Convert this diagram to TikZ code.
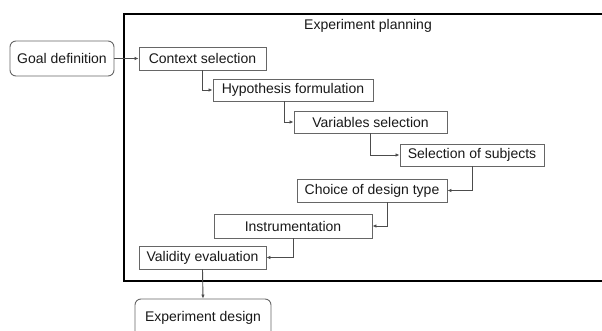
\documentclass[tikz,border=0pt]{standalone}
\usepackage{fontspec}
\setmainfont{Liberation Sans}
\usetikzlibrary{arrows.meta,positioning}
\begin{document}
\begin{tikzpicture}[x=1pt,y=-1pt,
  every node/.style={font=\fontsize{14}{16}\selectfont, text=black!90, inner sep=0pt},
  stepbox/.style={draw=black!60, line width=0.9pt, fill=white},
  endbox/.style={draw=black!60, line width=0.9pt, rounded corners=6pt, fill=white},
  conn/.style={draw=black!70, line width=0.9pt, -{Latex[length=4pt,width=3.5pt]}},
  frame/.style={draw=black, line width=1.3pt}
]
\clip (0,0) rectangle (602,331);
\fill[white] (0,0) rectangle (602,331);
\node[frame, minimum width=486pt, minimum height=267pt] (plan) at (367,147.5) {};
\node (title) at (368,26) {Experiment planning};
\node[endbox, minimum width=104pt, minimum height=35pt] (goal) at (62,58.5) {Goal definition};
\node[stepbox, minimum width=127pt, minimum height=23pt] (ctx) at (202.5,58.5) {Context selection};
\node[stepbox, minimum width=160pt, minimum height=22pt] (hyp) at (293,90) {Hypothesis formulation};
\node[stepbox, minimum width=153pt, minimum height=22pt] (var) at (370.5,122) {Variables selection};
\node[stepbox, minimum width=144pt, minimum height=22pt] (sub) at (472,155) {Selection of subjects};
\node[stepbox, minimum width=150pt, minimum height=23pt] (cho) at (372,190.5) {Choice of design type};
\node[stepbox, minimum width=158pt, minimum height=24pt] (ins) at (293,226) {Instrumentation};
\node[stepbox, minimum width=127pt, minimum height=23pt] (val) at (202.5,257.5) {Validity evaluation};
\node[endbox, minimum width=136pt, minimum height=38pt] (exp) at (203,318) {Experiment design};
\draw[conn] (goal.east) -- (ctx.west);
\draw[conn] (ctx.south) |- (hyp.west);
\draw[conn] ([xshift=-9pt]hyp.south) |- (var.west);
\draw[conn] (var.south) |- (sub.west);
\draw[conn] (sub.south) |- (cho.east);
\draw[conn] ([xshift=15pt]cho.south) |- (ins.east);
\draw[conn] (ins.south) |- (val.east);
\draw[conn] (val.south) -- (exp.north);
\end{tikzpicture}
\end{document}
